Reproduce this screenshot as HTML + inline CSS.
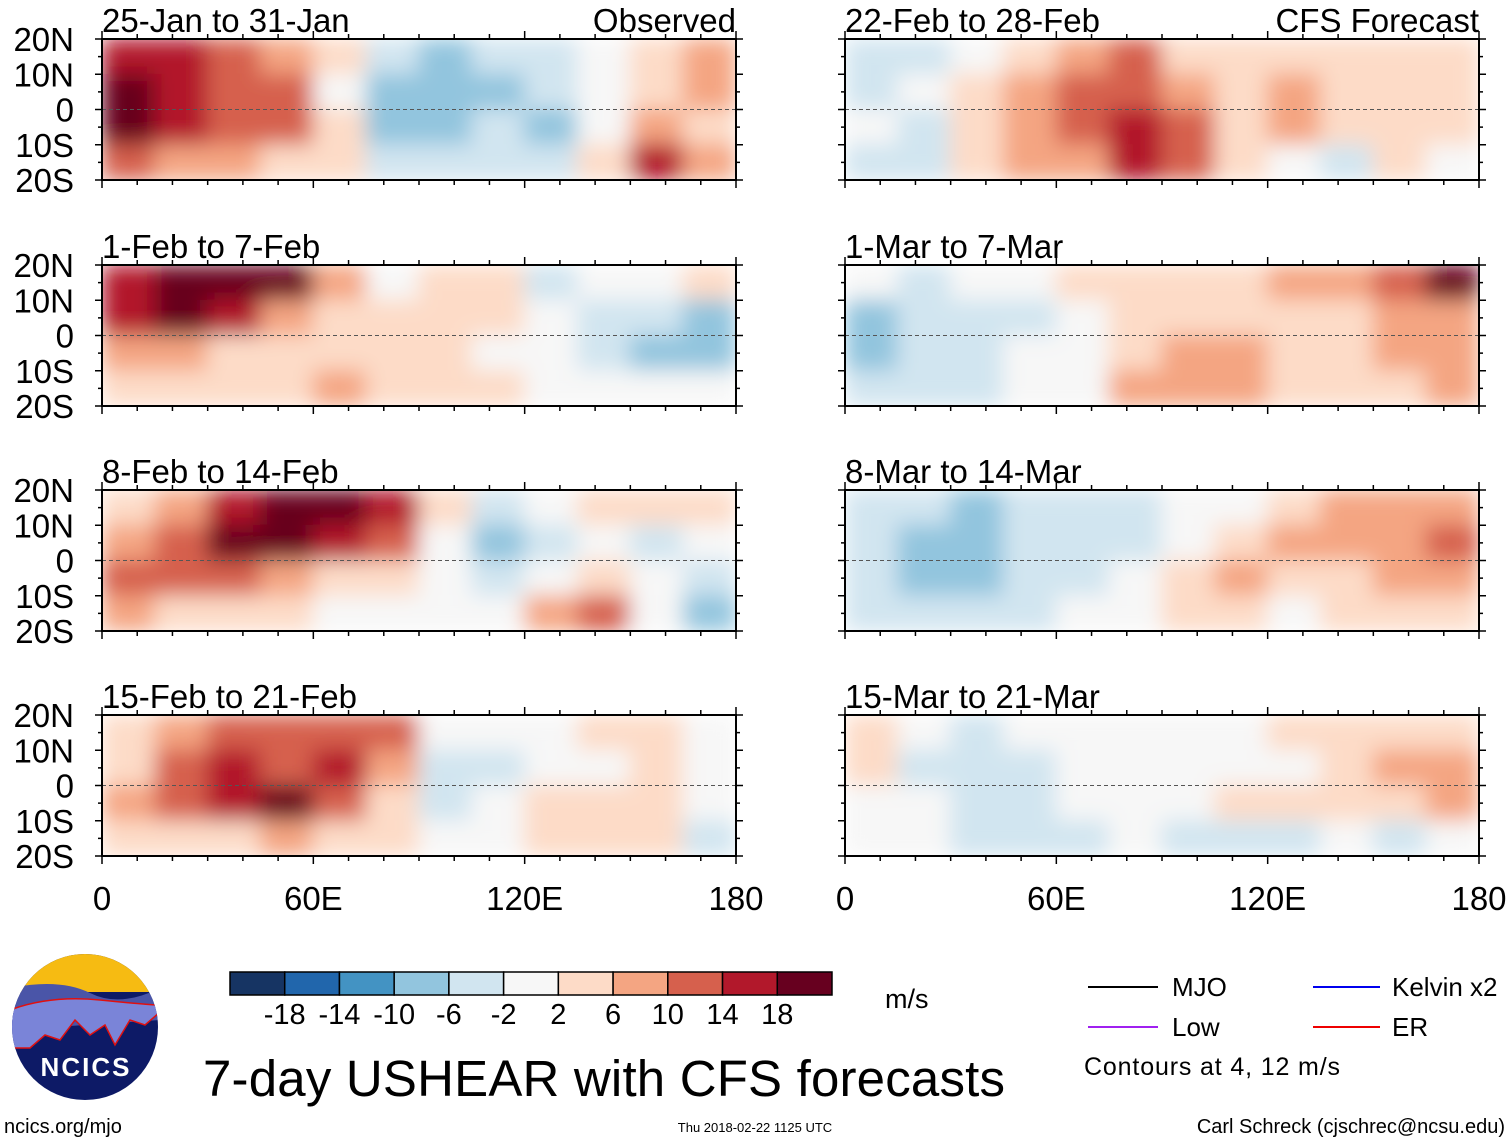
<!DOCTYPE html>
<html><head><meta charset="utf-8"><style>
body{margin:0;background:#fff;}
svg text{font-family:"Liberation Sans",sans-serif;}
</style></head><body>
<svg id="s" width="1510" height="1142" viewBox="0 0 1510 1142" xmlns="http://www.w3.org/2000/svg">
<defs>
<filter id="bl" x="0" y="0" width="1" height="1"><feGaussianBlur stdDeviation="11" edgeMode="duplicate"/></filter>
</defs>
</svg>
<script>
const titles=["25-Jan to 31-Jan","1-Feb to 7-Feb","8-Feb to 14-Feb","15-Feb to 21-Feb","22-Feb to 28-Feb","1-Mar to 7-Mar","8-Mar to 14-Mar","15-Mar to 21-Mar"];
const latLabels=["20N","10N","0","10S","20S"];
const lonLabels=["0","60E","120E","180"];
const levels=[-18,-14,-10,-6,-2,2,6,10,14,18];
const colors=["#163463","#2166ac","#4393c3","#92c5de","#d1e5f0","#f7f7f7","#fddbc7","#f4a582","#d6604d","#b2182b","#67001f"];
const p1=[[16,14,12,8,2,-6,-8,-6,-4,-2,4,6],[20,16,12,10,0,-8,-10,-8,-6,-2,4,8],[18,14,12,12,2,-10,-8,-6,-8,-2,6,4],[10,8,6,4,2,-6,-4,-6,-4,4,16,6]];
const p2=[[14,18,20,22,8,0,2,2,-4,-2,-2,2],[14,18,16,8,2,4,4,2,-2,-6,-6,-8],[8,6,4,2,4,4,2,-2,-2,-4,-8,-8],[4,2,2,4,6,4,2,2,0,-2,-2,-2]];
const p3=[[4,6,14,18,20,16,4,-6,-2,4,4,2],[6,10,20,22,16,10,-2,-8,-6,-2,-4,-2],[10,12,12,8,4,4,0,-4,-2,2,-2,-4],[6,4,2,4,-2,-2,0,-2,6,10,0,-10]];
const p4=[[4,8,12,10,12,10,-2,0,0,2,2,0],[4,12,16,10,14,6,-6,-6,-2,0,2,0],[8,10,16,18,12,2,-6,-2,2,4,2,0],[4,2,4,6,2,2,0,-2,2,4,2,-6]];
const p5=[[-6,-6,-2,2,8,12,4,2,4,4,2,4],[-6,-2,2,6,12,12,6,4,6,2,2,2],[-2,-6,2,8,12,16,12,4,6,2,4,2],[-6,-6,2,6,8,16,12,4,-2,-6,2,-2]];
const p6=[[-2,-4,-2,-2,4,2,4,2,6,8,12,18],[-10,-6,-4,-4,-2,2,4,4,2,2,6,8],[-10,-6,-4,-2,-2,4,6,6,4,2,6,8],[-6,-4,-4,-2,-2,6,8,8,4,2,4,6]];
const p7=[[-4,-6,-8,-6,-4,-4,-2,-2,4,6,8,8],[-6,-8,-10,-6,-4,-4,-2,2,6,6,8,12],[-6,-10,-8,-4,-4,-2,4,6,4,4,6,8],[-4,-4,-4,-4,-2,-2,2,2,0,2,4,4]];
const p8=[[2,-2,-4,-2,-2,0,0,0,2,2,4,4],[2,-4,-4,-6,-2,-2,0,0,0,2,6,8],[0,-2,-4,-4,-2,0,0,2,2,2,4,6],[0,-2,-4,-6,-4,-2,-4,-6,-4,-2,-4,-2]];
const panels=[p1,p2,p3,p4,p5,p6,p7,p8];

const NS="http://www.w3.org/2000/svg";
const svg=document.getElementById('s');
function mk(t,a,parent){const e=document.createElementNS(NS,t);for(const k in a)e.setAttribute(k,a[k]);(parent||svg).appendChild(e);return e;}
function col(v){let i=0;while(i<levels.length&&v>=levels[i])i++;return colors[i];}
const PW=634,PH=141;
const PX=[102,845],PY=[39,265,490,715];
function xScale(x0,lon){return x0+lon/180*PW;}
function yScale(y0,lat){return y0+(20-lat)/40*PH;}

panels.forEach((data,pi)=>{
  const x0=PX[Math.floor(pi/4)],y0=PY[pi%4];
  const g=mk('g',{});
  
  
  const cp=mk('clipPath',{id:'cp'+pi},svg.querySelector('defs'));
  mk('rect',{x:x0,y:y0,width:PW,height:PH},cp);
  const cg=mk('g',{'clip-path':'url(#cp'+pi+')'},g);
  const fg=mk('g',{filter:'url(#bl)'},cg);
  data.forEach((row,r)=>row.forEach((v,c)=>{
    const x1=xScale(x0,c*15),x2=xScale(x0,(c+1)*15);
    const ya=yScale(y0,20-r*10),yb=yScale(y0,10-r*10);
    const cell=mk('rect',{x:x1-0.5,y:ya-0.5,width:x2-x1+1,height:yb-ya+1,fill:col(v)},fg);
    
    
  }));
  const eq=mk('line',{x1:x0,x2:x0+PW,y1:yScale(y0,0),y2:yScale(y0,0),stroke:'#555','stroke-dasharray':'4,3','stroke-width':1},g);
  
  
  const fr=mk('rect',{x:x0,y:y0,width:PW,height:PH,fill:'none',stroke:'#000','stroke-width':2},g);
  
  
  for(let lon=0;lon<=180;lon+=10){const x=xScale(x0,lon);const L=lon%60==0?8:5;
    mk('line',{x1:x,x2:x,y1:y0,y2:y0-L,stroke:'#000','stroke-width':1.5},g);
    mk('line',{x1:x,x2:x,y1:y0+PH,y2:y0+PH+L,stroke:'#000','stroke-width':1.5},g);}
  for(let lat=-20;lat<=20;lat+=5){const y=yScale(y0,lat);const L=lat%10==0?7:4;
    mk('line',{x1:x0,x2:x0-L,y1:y,y2:y,stroke:'#000','stroke-width':1.5},g);
    mk('line',{x1:x0+PW,x2:x0+PW+L,y1:y,y2:y,stroke:'#000','stroke-width':1.5},g);}
  const t=mk('text',{x:x0,y:y0-7,'font-size':33},g);t.textContent=titles[pi];
  
  
  if(pi%4==0){const t2=mk('text',{x:x0+PW,y:y0-7,'font-size':33,'text-anchor':'end'},g);t2.textContent=pi==0?'Observed':'CFS Forecast';
    
    }
  if(pi<4){latLabels.forEach((l,i)=>{const tl=mk('text',{x:74,y:y0+i*PH/4+12,'font-size':33,'text-anchor':'end'},g);tl.textContent=l;
    
    });}
});
[0,1].forEach(k=>lonLabels.forEach((l,i)=>{const t=mk('text',{x:xScale(PX[k],i*60),y:910,'font-size':33,'text-anchor':'middle'});t.textContent=l;
  
  }));

const cb=mk('g',{});


const cbx=230,cbw=602/11;
colors.forEach((c,i)=>{mk('rect',{x:cbx+i*cbw,y:972,width:cbw,height:23,fill:c,stroke:'#000','stroke-width':1.5},cb);});
levels.forEach((l,i)=>{const t=mk('text',{x:cbx+(i+1)*cbw,y:1024,'font-size':29,'text-anchor':'middle'},cb);t.textContent=l;
  
  });
</script>
<div style="position:absolute;left:0;top:0;width:1510px;height:1142px;pointer-events:none;">
<svg width="1510" height="1142" style="position:absolute;left:0;top:0">
<g>
<clipPath id="lc"><circle cx="85" cy="1027" r="73"/></clipPath>
<g clip-path="url(#lc)">
<rect x="10" y="950" width="150" height="160" fill="#0d1a66"/>
<rect x="10" y="950" width="150" height="42" fill="#f6bb12"/>
<path d="M10 988 Q60 978 90 993 T160 988 L160 1020 L10 1030Z" fill="#4a55a8"/>
<path d="M10 1010 Q50 995 100 1000 T160 1005 L160 1012 L145 1025 L130 1020 L115 1045 L105 1025 L90 1035 L75 1020 L60 1040 L45 1035 L30 1048 L10 1048Z" fill="#7a84d8" stroke="#e01010" stroke-width="1.5"/>
</g>
<text x="86" y="1076" font-size="26" font-weight="bold" fill="#fff" text-anchor="middle" letter-spacing="2">NCICS</text>
</g>
<text x="885" y="1008" font-size="27">m/s</text>
<text x="203" y="1096" font-size="51" textLength="802">7-day USHEAR with CFS forecasts</text>
<g>
<line x1="1088" x2="1158" y1="987" y2="987" stroke="#000" stroke-width="2"/>
<text x="1172" y="996" font-size="26">MJO</text>
<line x1="1313" x2="1380" y1="987" y2="987" stroke="#0000ee" stroke-width="2"/>
<text x="1392" y="996" font-size="26">Kelvin x2</text>
<line x1="1088" x2="1158" y1="1027" y2="1027" stroke="#a020f0" stroke-width="2"/>
<text x="1172" y="1036" font-size="26">Low</text>
<line x1="1313" x2="1380" y1="1027" y2="1027" stroke="#ee0000" stroke-width="2"/>
<text x="1392" y="1036" font-size="26">ER</text>
<text x="1084" y="1075" font-size="25" textLength="256">Contours at 4, 12 m/s</text>
</g>
<text x="4" y="1133" font-size="20">ncics.org/mjo</text>
<text x="755" y="1132" font-size="13" text-anchor="middle">Thu 2018-02-22 1125 UTC</text>
<text x="1505" y="1133" font-size="20" text-anchor="end">Carl Schreck (cjschrec@ncsu.edu)</text>
</svg>
</div>
</body></html>
